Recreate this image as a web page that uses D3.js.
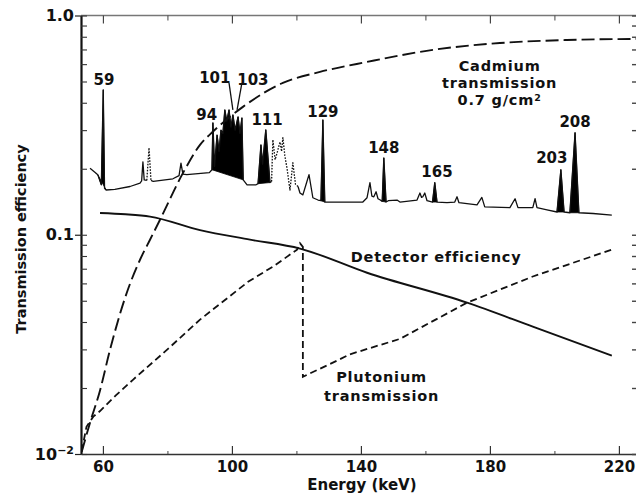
<!DOCTYPE html>
<html>
<head>
<meta charset="utf-8">
<script src="https://cdn.jsdelivr.net/npm/d3@7"></script>
<style>
  html, body { margin: 0; padding: 0; background: #fff; }
  svg { display: block; }
  text { font-family: "DejaVu Sans", sans-serif; font-weight: bold; fill: #111; }
</style>
</head>
<body>
<svg id="chart" width="636" height="499"></svg>
<script>
// ---------- data ----------
const xTicksMajor = [60, 100, 140, 180, 220];
const xTicksMinor = [80, 120, 160, 200];
const yTicksMajor = [0.01, 0.1, 1];
const yTickLabels = ["10-2", "0.1", "1.0"];

// Gamma spectrum trace [energy keV, relative value]
const spectrum = [
  [56.0,0.201],[57.5,0.193],[58.4,0.188],[59.5,0.169],[60.1,0.458],[60.5,0.163],[61.0,0.160],
  [63.7,0.161],[68.4,0.166],[71.5,0.172],[72.0,0.176],[72.4,0.215],[72.8,0.178],[73.6,0.177],
  [74.3,0.249],[74.9,0.177],[75.6,0.175],[81.7,0.180],[83.6,0.186],[84.2,0.212],[84.8,0.189],
  [86.0,0.188],[93.0,0.192],[93.8,0.198],[94.1,0.324],[94.6,0.205],[95.4,0.285],[96.0,0.24],
  [96.6,0.30],[97.2,0.29],[97.8,0.371],[98.4,0.33],[99.1,0.371],[99.7,0.31],[100.3,0.352],
  [101.0,0.30],[101.9,0.345],[102.5,0.29],[103.1,0.341],[103.5,0.178],[104.7,0.169],
  [107.5,0.169],[108.1,0.171],[109.0,0.257],[109.5,0.21],[110.5,0.301],[111.8,0.173],
  [112.3,0.175],[112.7,0.271],[113.4,0.22],[114.0,0.236],[114.9,0.265],[115.4,0.24],
  [115.8,0.277],[116.4,0.23],[117.1,0.20],[118.0,0.160],[118.9,0.213],[119.7,0.17],
  [120.5,0.166],[121.1,0.155],[122.0,0.152],[123.0,0.17],[123.9,0.188],[125.1,0.1475],
  [126.7,0.144],[127.6,0.143],[128.2,0.334],[128.8,0.141],[130.4,0.141],[140.6,0.141],
  [141.9,0.1475],[142.8,0.173],[143.4,0.15],[144.0,0.149],[144.7,0.157],[145.3,0.146],
  [146.0,0.144],[146.6,0.142],[147.1,0.224],[147.8,0.141],[148.5,0.143],[151.2,0.144],
  [152.1,0.141],[157.4,0.144],[158.3,0.155],[158.8,0.148],[159.2,0.149],[159.8,0.155],
  [160.5,0.143],[162.2,0.141],[162.9,0.173],[163.6,0.141],[166.7,0.140],[169.1,0.141],
  [169.8,0.149],[170.4,0.140],[176.0,0.137],[177.5,0.148],[178.4,0.134],[186.2,0.133],
  [187.8,0.146],[188.7,0.133],[193.3,0.133],[194.0,0.146],[194.6,0.133],[197.7,0.130],
  [200.8,0.127],[202.0,0.198],[203.0,0.127],[204.8,0.126],[206.4,0.292],[207.6,0.126],
  [212.0,0.125],[217.8,0.123]
];
// energy ranges of the spectrum drawn as filled (black) peaks
const filledPeaks = [[58.4,61.0],[93.8,103.5],[108.1,111.8],[127.6,128.8],[146.6,147.8],
                     [162.2,163.6],[200.8,203.0],[204.8,207.6]];
// energy ranges of the spectrum drawn dotted
const dottedRanges = [[73.6,75.0],[112.3,120.5]];

const cadmium = [
  [53.4,0.0102],[56.0,0.0139],[59.1,0.0195],[62.2,0.0299],[67.4,0.0544],[71.5,0.0769],
  [74.6,0.0949],[77.7,0.117],[84.8,0.191],[90.1,0.257],[94.4,0.298],[103.4,0.383],
  [115.8,0.493],[127.3,0.553],[141.9,0.614],[162.3,0.697],[183.1,0.749],[203.9,0.773],
  [225.3,0.782]
];
const detector = [
  [59.1,0.1257],[67.0,0.124],[74.6,0.121],[90.1,0.105],[105.6,0.095],[121.1,0.0865],
  [141.9,0.0671],[172.9,0.049],[193.3,0.0381],[217.8,0.0281]
];
const plutonium = [
  [53.4,0.0103],[54.9,0.0133],[57.0,0.0148],[59.1,0.0157],[64.0,0.0185],[69.3,0.0218],
  [80.0,0.030],[90.1,0.041],[105.0,0.061],[113.0,0.072],[120.2,0.0855],[121.1,0.0915],
  [122.0,0.088],[122.0,0.0225],[131.3,0.0261],[136.6,0.0285],[152.1,0.0335],[172.9,0.049],
  [193.3,0.0645],[217.8,0.0855]
];

const peakLabels = [
  {t:"59", E:60.3, v:0.482}, {t:"101", E:94.7, v:0.493}, {t:"103", E:106.5, v:0.482},
  {t:"94", E:92.2, v:0.334}, {t:"111", E:110.9, v:0.317}, {t:"129", E:128.2, v:0.345},
  {t:"148", E:147.1, v:0.236}, {t:"165", E:163.6, v:0.184}, {t:"203", E:199.2, v:0.213},
  {t:"208", E:206.4, v:0.311}
];
const leaderLines = [[99.1,0.493,100.3,0.371],[103.1,0.493,101.6,0.371]];

const curveLabels = [
  {lines:["Cadmium","transmission","0.7 g/cm\u00B2"], E:183.0, v:0.56, gap:17},
  {lines:["Detector efficiency"], E:163.3, v:0.0753, gap:0},
  {lines:["Plutonium","transmission"], E:146.4, v:0.0212, gap:19}
];

// ---------- drawing ----------
const svg = d3.select("#chart");
svg.append("rect").attr("width",636).attr("height",499).attr("fill","#fff");

const x = d3.scaleLinear().domain([53.2, 225.3]).range([81, 636]);
const y = d3.scaleLog().domain([0.01, 1]).range([454, 15.5]);

// top frame line
svg.append("line").attr("x1",81).attr("x2",636).attr("y1",y(1)).attr("y2",y(1))
  .attr("stroke","#777").attr("stroke-width",1.6);

// bottom axis
const gx = svg.append("g").attr("transform",`translate(0,${y(0.01)})`)
  .call(d3.axisBottom(x).tickValues(xTicksMajor).tickSizeInner(-8).tickSizeOuter(0).tickPadding(7));
gx.select(".domain").attr("stroke","#333").attr("stroke-width",1.6);
gx.selectAll(".tick line").attr("stroke","#333").attr("stroke-width",1.2);
gx.selectAll("text").attr("font-size",15).attr("font-family","DejaVu Sans").attr("font-weight","bold").attr("fill","#111");
svg.append("g").attr("transform",`translate(0,${y(0.01)})`)
  .call(d3.axisBottom(x).tickValues(xTicksMinor).tickSize(-3).tickFormat(""))
  .call(g => { g.select(".domain").remove(); g.selectAll("line").attr("stroke","#444"); });

// top axis ticks
svg.append("g").attr("transform",`translate(0,${y(1)})`)
  .call(d3.axisTop(x).tickValues(xTicksMajor).tickSize(-8).tickFormat(""))
  .call(g => { g.select(".domain").remove(); g.selectAll("line").attr("stroke","#444").attr("stroke-width",1.2); });
svg.append("g").attr("transform",`translate(0,${y(1)})`)
  .call(d3.axisTop(x).tickValues(xTicksMinor).tickSize(-5).tickFormat(""))
  .call(g => { g.select(".domain").remove(); g.selectAll("line").attr("stroke","#444"); });

// left axis
const allLogTicks = y.ticks(10);
const gy = svg.append("g").attr("transform","translate(81,0)")
  .call(d3.axisLeft(y).tickValues(yTicksMajor).tickSizeInner(6).tickSizeOuter(0).tickPadding(1)
        .tickFormat((d,i) => yTickLabels[i]));
gy.select(".domain").attr("stroke","#111").attr("stroke-width",2.2);
gy.selectAll(".tick line").attr("stroke","#222").attr("stroke-width",1.2);
gy.selectAll("text").attr("font-size",16).attr("font-family","DejaVu Sans").attr("font-weight","bold").attr("fill","#111");
gy.selectAll(".tick text").filter(d => d === 0.01).each(function() {
  const t = d3.select(this); t.text("");
  t.append("tspan").text("10");
  t.append("tspan").text("\u22122").attr("font-size",11).attr("dy","-0.55em");
});
svg.append("g").attr("transform","translate(81,0)")
  .call(d3.axisLeft(y).tickValues(allLogTicks).tickSize(-6).tickFormat(""))
  .call(g => { g.select(".domain").remove(); g.selectAll("line").attr("stroke","#333").attr("stroke-width",1.1); });

// right axis ticks
svg.append("g").attr("transform","translate(636,0)")
  .call(d3.axisRight(y).tickValues(allLogTicks).tickSize(-4).tickFormat(""))
  .call(g => { g.select(".domain").remove(); g.selectAll("line").attr("stroke","#444").attr("stroke-width",1.4); });

// axis titles
svg.append("text").attr("transform","translate(21,239) rotate(-90)")
  .attr("text-anchor","middle").attr("dominant-baseline","central")
  .attr("font-size",14.5).text("Transmission efficiency");
svg.append("text").attr("x",x(140.3)).attr("y",490).attr("text-anchor","middle")
  .attr("font-size",15).text("Energy (keV)");

// clip
svg.append("clipPath").attr("id","clip").append("rect")
  .attr("x",81).attr("y",y(1)).attr("width",555).attr("height",y(0.01)-y(1));
const plot = svg.append("g").attr("clip-path","url(#clip)");

const line = d3.line().x(d => x(d[0])).y(d => y(d[1]));

// filled peaks
filledPeaks.forEach(([a,b]) => {
  const pts = spectrum.filter(d => d[0] >= a && d[0] <= b);
  plot.append("path").attr("d", line(pts) + "Z").attr("fill","#000").attr("stroke","#000").attr("stroke-width",0.8);
});

// spectrum segments (solid / dotted)
const inDotted = e => dottedRanges.some(([a,b]) => e >= a && e <= b);
let segs = [];
for (let i = 0; i < spectrum.length - 1; i++) {
  const mid = (spectrum[i][0] + spectrum[i+1][0]) / 2;
  const dotted = inDotted(mid);
  if (segs.length && segs[segs.length-1].dotted === dotted) segs[segs.length-1].pts.push(spectrum[i+1]);
  else segs.push({dotted, pts:[spectrum[i], spectrum[i+1]]});
}
segs.forEach(s => {
  plot.append("path").attr("d", line(s.pts)).attr("fill","none").attr("stroke","#111")
    .attr("stroke-width", 1.3)
    .attr("stroke-dasharray", s.dotted ? "1.6,1.4" : null)
    .attr("stroke-linejoin","round");
});

// cadmium transmission (long dashes)
plot.append("path").attr("d", d3.line().x(d=>x(d[0])).y(d=>y(d[1])).curve(d3.curveMonotoneX)(cadmium))
  .attr("fill","none").attr("stroke","#111").attr("stroke-width",1.9).attr("stroke-dasharray","13,5");
// detector efficiency (solid)
plot.append("path").attr("d", d3.line().x(d=>x(d[0])).y(d=>y(d[1])).curve(d3.curveMonotoneX)(detector))
  .attr("fill","none").attr("stroke","#111").attr("stroke-width",1.9);
// plutonium transmission (short dashes)
plot.append("path").attr("d", line(plutonium))
  .attr("fill","none").attr("stroke","#111").attr("stroke-width",1.8).attr("stroke-dasharray","7,4");

// peak labels
peakLabels.forEach(p => {
  svg.append("text").attr("x",x(p.E)).attr("y",y(p.v)).attr("text-anchor","middle")
    .attr("font-size",15).text(p.t);
});
leaderLines.forEach(l => {
  svg.append("line").attr("x1",x(l[0])).attr("y1",y(l[1])).attr("x2",x(l[2])).attr("y2",y(l[3]))
    .attr("stroke","#111").attr("stroke-width",1.3);
});

// curve labels (one text element per label, lines as tspans)
curveLabels.forEach(c => {
  const el = svg.append("text").attr("x",x(c.E)).attr("y",y(c.v)).attr("text-anchor","middle")
    .attr("font-size",14.5).attr("letter-spacing",0.8);
  c.lines.forEach((t,i) => {
    const ts = el.append("tspan").attr("x",x(c.E)).attr("dy", i === 0 ? 0 : c.gap);
    if (t.endsWith("\u00B2")) {
      ts.text(t.slice(0,-1));
      el.append("tspan").text("2").attr("font-size",9.5).attr("dy",-4);
    } else ts.text(t);
  });
});
</script>
</body>
</html>
